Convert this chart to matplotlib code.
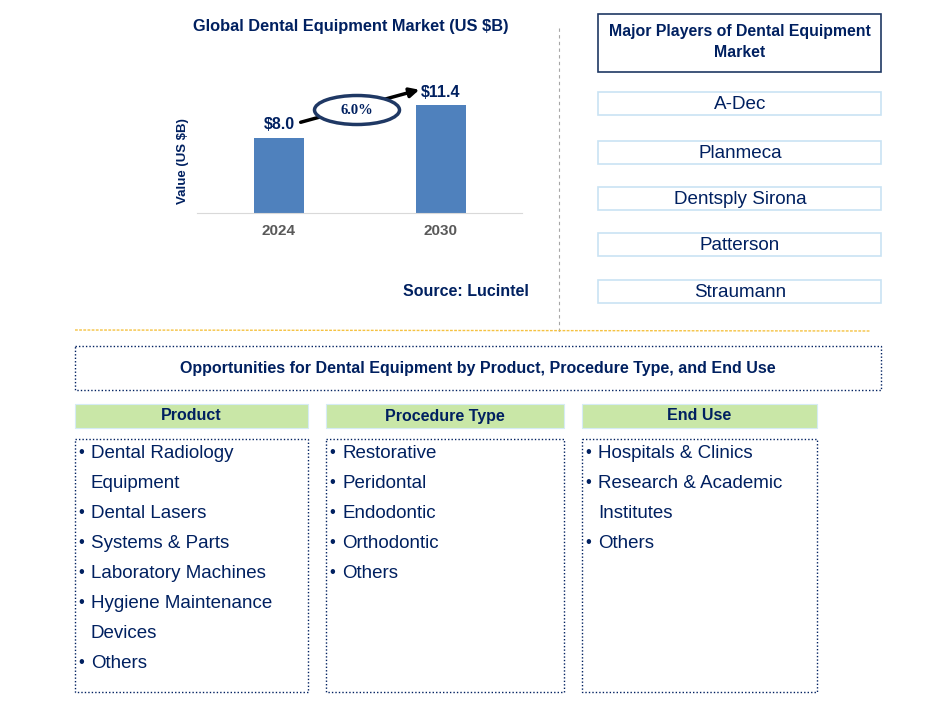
import matplotlib.pyplot as plt
from matplotlib.patches import Rectangle, Ellipse

plt.rcParams['font.family'] = ['Liberation Sans', 'DejaVu Sans']

# data
years = ['2024', '2030']
values = [8.0, 11.4]
value_labels = ['$8.0', '$11.4']
cagr = '6.0%'
players = ['A-Dec', 'Planmeca', 'Dentsply Sirona', 'Patterson', 'Straumann']
product = ['Dental Radiology\nEquipment', 'Dental Lasers', 'Systems & Parts',
           'Laboratory Machines', 'Hygiene Maintenance\nDevices', 'Others']
procedure = ['Restorative', 'Peridontal', 'Endodontic', 'Orthodontic', 'Others']
end_use = ['Hospitals & Clinics', 'Research & Academic\nInstitutes', 'Others']

navy = '#002060'
W, H = 945, 713
fig = plt.figure(figsize=(W / 100, H / 100), dpi=100)

# background axes in pixel coordinates
bg = fig.add_axes([0, 0, 1, 1])
bg.set_xlim(0, W)
bg.set_ylim(H, 0)
bg.axis('off')

# bar chart axes
l, r, b, t = 197, 522, 213, 62
ax = fig.add_axes([l / W, 1 - b / H, (r - l) / W, (b - t) / H])
ax.patch.set_alpha(0)
x = range(len(years))
bars = ax.bar(x, values, width=0.31, color='#4f81bd')
ax.set_xlim(-0.506, 1.5)
ax.set_ylim(0, 16)
for s in ['top', 'right', 'left']:
    ax.spines[s].set_visible(False)
ax.spines['bottom'].set_color('#d9d9d9')
ax.set_yticks([])
ax.set_xticks(list(x))
ax.set_xticklabels(years, fontsize=11, fontweight='bold', color='#595959')
ax.tick_params(axis='x', length=0, pad=8)
ax.set_ylabel('Value (US $B)', fontsize=9.5, fontweight='bold', color=navy)
ax.yaxis.set_label_coords(-0.025, 0.344)
for xi, v, lab in zip(x, values, value_labels):
    ax.annotate(lab, (xi, v), xytext=(0, 4), textcoords='offset points',
                ha='center', va='bottom', fontsize=11.5, fontweight='bold', color=navy)

bg.text(351, 26, 'Global Dental Equipment Market (US $B)', ha='center', va='center',
        fontsize=11.8, fontweight='bold', color=navy)

# CAGR arrow and ellipse
bg.annotate('', xy=(422, 89), xytext=(298, 123),
            arrowprops=dict(arrowstyle='-|>', color='black', lw=2.5, mutation_scale=14))
bg.add_patch(Ellipse((357, 110), 85, 29, facecolor='white', edgecolor='#1f3864', lw=2.5, zorder=3))
bg.text(357, 110, cagr, ha='center', va='center', fontsize=10.5, fontweight='bold',
        color=navy, family='Liberation Serif', zorder=4)

bg.text(466, 291, 'Source: Lucintel', ha='center', va='center', fontsize=11.5,
        fontweight='bold', color=navy)

# separators
bg.plot([559, 559], [28, 332], color='#a6a6a6', lw=0.8, ls=(0, (3, 3)))
bg.plot([75, 870], [330, 331], color='#f5c242', lw=1.0, ls=(0, (2, 1)))

# major players
bg.add_patch(Rectangle((598, 14), 283, 58, facecolor='white', edgecolor='#1f3864', lw=1.2))
bg.text(740, 42, 'Major Players of Dental Equipment\nMarket', ha='center', va='center',
        fontsize=11.4, fontweight='bold', color=navy, linespacing=1.5)
player_top = [92, 141, 187, 233, 280]
for yt, name in zip(player_top, players):
    bg.add_patch(Rectangle((598, yt), 283, 23, facecolor='white', edgecolor='#c9e3f3', lw=1.2))
    bg.text(740, yt + 12.5, name, ha='center', va='center', fontsize=13.6, color=navy)

# opportunities box
bg.add_patch(Rectangle((75, 346), 806, 44, facecolor='none', edgecolor=navy, lw=1.0, ls=(0, (1, 1.5))))
bg.text(478, 368, 'Opportunities for Dental Equipment by Product, Procedure Type, and End Use',
        ha='center', va='center', fontsize=11.5, fontweight='bold', color=navy)

cols = [(75, 233, 'Product', product), (326, 238, 'Procedure Type', procedure),
        (582, 235, 'End Use', end_use)]
for x0, w, head, items in cols:
    bg.add_patch(Rectangle((x0, 404), w, 24, facecolor='#c9e7a7', edgecolor='#d5ebf5', lw=0.8))
    bg.text(x0 + w / 2, 416, head, ha='center', va='center', fontsize=11.5,
            fontweight='bold', color=navy)
    bg.add_patch(Rectangle((x0, 439), w, 253, facecolor='none', edgecolor=navy, lw=1.0,
                           ls=(0, (1, 1.5))))
    yy = 453
    for it in items:
        lines = it.split('\n')
        bg.text(x0 + 3, yy, '\u2022', ha='left', va='center', fontsize=12, color=navy)
        for ln in lines:
            bg.text(x0 + 16, yy, ln, ha='left', va='center', fontsize=13.5, color=navy)
            yy += 30

fig.savefig('out.png', dpi=100)
